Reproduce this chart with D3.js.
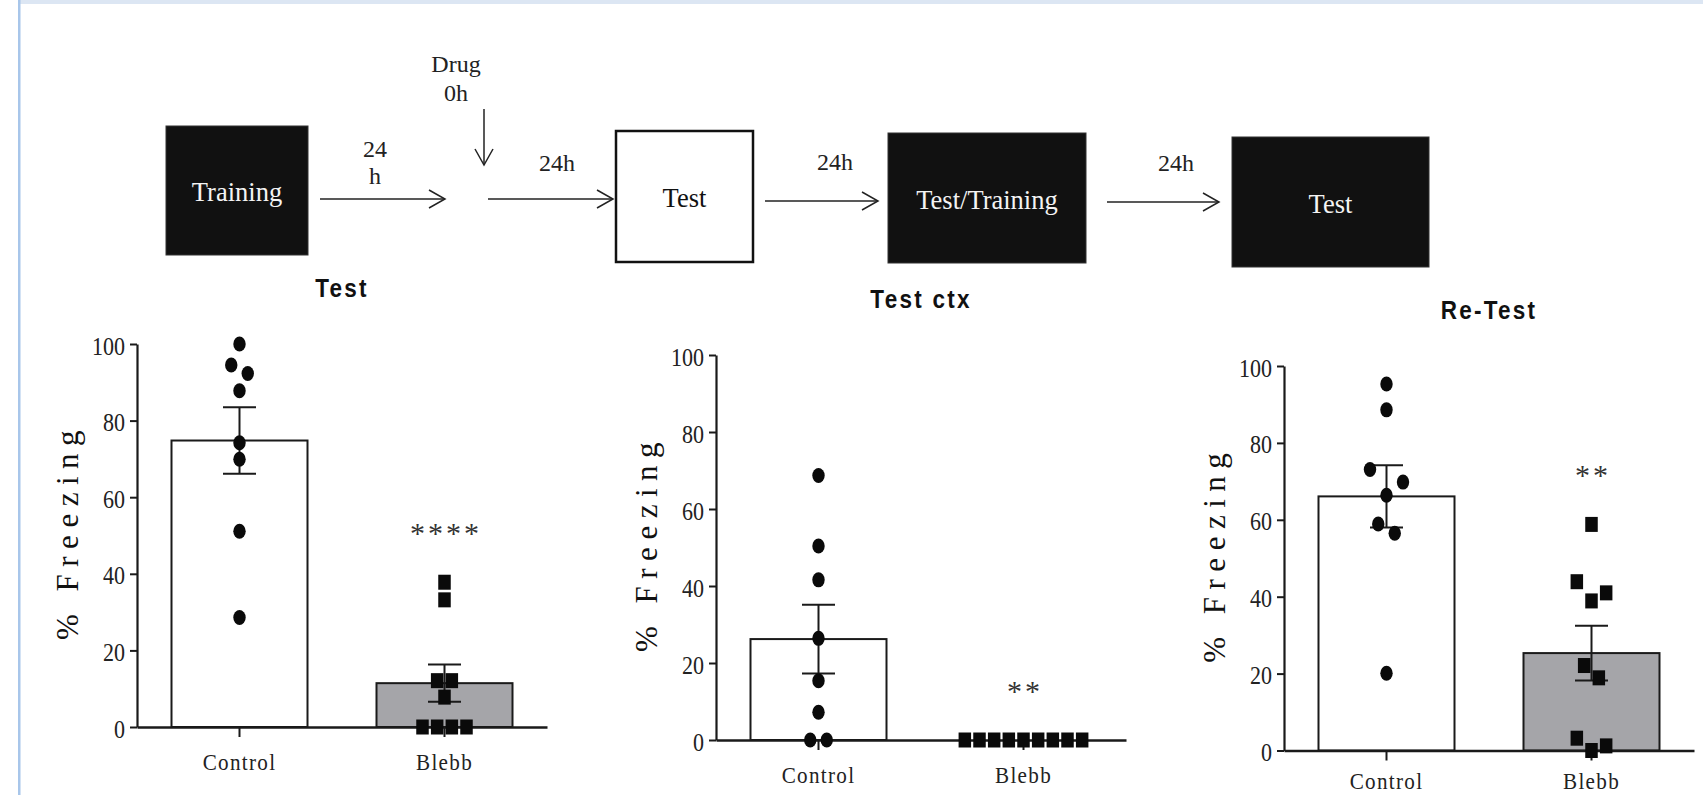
<!DOCTYPE html>
<html>
<head>
<meta charset="utf-8">
<script src="https://cdn.jsdelivr.net/npm/d3@7"></script>
<style>
  body { margin: 0; background: #fff; }
  svg { display: block; }
</style>
</head>
<body>
<svg id="fig" width="1703" height="795"></svg>
<script>

// ---- data ----
var groups = ["Control", "Blebb"];
var panelTitles = ["Test", "Test ctx", "Re-Test"];
var yTicks = [0, 20, 40, 60, 80, 100];

var testControl   = [100, 94.5, 92.3, 87.8, 74.2, 69.9, 51.1, 28.6];
var testBlebb     = [37.8, 33.2, 12.1, 12.1, 7.8, 0, 0, 0, 0];
var ctxControl    = [68.7, 50.4, 41.6, 26.4, 15.4, 7.2, 0, 0];
var ctxBlebb      = [0, 0, 0, 0, 0, 0, 0, 0, 0];
var retestControl = [95.3, 88.6, 73.1, 69.8, 66.4, 58.9, 56.5, 20.1];
var retestBlebb   = [58.8, 43.9, 41.0, 38.9, 22.1, 18.9, 3.2, 1.2, 0];

var stars = ["****", "**", "**"];

// protocol diagram
var steps = ["Training", "Test", "Test/Training", "Test"];
var delays = [["24", "h"], ["24h"], ["24h"], ["24h"]];
var drugLabel = ["Drug", "0h"];

var svg = d3.select("#fig");
var serif = "'Liberation Serif', 'Times New Roman', serif",
    sans = "'Liberation Sans', Arial, sans-serif";

// page frame (light blue rules of the source page)
svg.append("rect").attr("x", 19).attr("y", 0).attr("width", 1684).attr("height", 4).attr("fill", "#dce6f3");
svg.append("rect").attr("x", 18).attr("y", 0).attr("width", 2.5).attr("height", 795).attr("fill", "#a8c6ea");

// ---------- protocol diagram ----------
var boxes = [
  {x: 166, y: 126, w: 142, h: 129, dark: true},
  {x: 616, y: 131, w: 137, h: 131, dark: false},
  {x: 888, y: 133, w: 198, h: 130, dark: true},
  {x: 1232, y: 137, w: 197, h: 130, dark: true}
];
var arrows = [
  {x1: 320, x2: 445, y: 199},
  {x1: 488, x2: 613, y: 199},
  {x1: 765, x2: 878, y: 201},
  {x1: 1107, x2: 1219, y: 202}
];
var delayPos = [[375, 157], [557, 171], [835, 170], [1176, 171]];

var diag = svg.append("g");
boxes.forEach(function(b, i) {
  diag.append("rect")
    .attr("x", b.x).attr("y", b.y).attr("width", b.w).attr("height", b.h)
    .attr("fill", b.dark ? "#111" : "#fff")
    .attr("stroke", b.dark ? "#333" : "#111")
    .attr("stroke-width", b.dark ? 1 : 2.5);
  diag.append("text")
    .attr("x", b.x + b.w / 2).attr("y", b.y + b.h / 2 + 10.5)
    .attr("text-anchor", "middle")
    .style("font-family", serif).style("font-size", "26.5px")
    .attr("fill", b.dark ? "#f4f4f4" : "#111")
    .text(steps[i]);
});

function arrowHead(g, x, y, dx, dy) {
  // open chevron pointing along (dx, dy)
  var L = 16, H = 9;
  var px = -dy, py = dx;
  g.append("path")
    .attr("d", "M" + (x - dx * L + px * H) + "," + (y - dy * L + py * H) +
               "L" + x + "," + y +
               "L" + (x - dx * L - px * H) + "," + (y - dy * L - py * H))
    .attr("fill", "none").attr("stroke", "#222").attr("stroke-width", 1.5);
}

arrows.forEach(function(a, i) {
  diag.append("line")
    .attr("x1", a.x1).attr("x2", a.x2).attr("y1", a.y).attr("y2", a.y)
    .attr("stroke", "#222").attr("stroke-width", 1.5);
  arrowHead(diag, a.x2, a.y, 1, 0);
  delays[i].forEach(function(t, k) {
    diag.append("text")
      .attr("x", delayPos[i][0]).attr("y", delayPos[i][1] + k * 27)
      .attr("text-anchor", "middle")
      .style("font-family", serif).style("font-size", "24px").attr("fill", "#222")
      .text(t);
  });
});

// drug injection arrow
diag.append("line").attr("x1", 484).attr("x2", 484).attr("y1", 109).attr("y2", 165)
  .attr("stroke", "#222").attr("stroke-width", 1.5);
arrowHead(diag, 484, 165, 0, 1);
drugLabel.forEach(function(t, k) {
  diag.append("text")
    .attr("x", 456).attr("y", 72 + k * 29)
    .attr("text-anchor", "middle")
    .style("font-family", serif).style("font-size", "24px").attr("fill", "#222")
    .text(t);
});

// ---------- bar panels ----------
var panels = [
  {title: panelTitles[0], sets: [testControl, testBlebb], star: stars[0], x: 137, top: 344, h: 383},
  {title: panelTitles[1], sets: [ctxControl, ctxBlebb], star: stars[1], x: 716, top: 355, h: 385},
  {title: panelTitles[2], sets: [retestControl, retestBlebb], star: stars[2], x: 1284, top: 366, h: 384.5}
];

var W = 410, barW = 136, capW = 33, sx = 0.88;
var fills = ["#ffffff", "#a5a5a9"];

function sem(v) {
  var s = d3.deviation(v);
  return s ? s / Math.sqrt(v.length) : 0;
}

// spread overlapping points sideways (prism style: clusters centred on the column)
function spread(vals, y, step, gap) {
  var order = d3.range(vals.length).sort(function(a, b) { return vals[b] - vals[a]; });
  var out = new Array(vals.length), cluster = [];
  function flush() {
    var n = cluster.length;
    var slots = d3.range(n).map(function(i) { return i - (n - 1) / 2; });
    slots.sort(function(a, b) { return Math.abs(b) - Math.abs(a) || a - b; });
    cluster.forEach(function(idx, k) { out[idx] = slots[k] * step; });
    cluster = [];
  }
  order.forEach(function(i) {
    if (cluster.length && y(vals[i]) - y(vals[cluster[cluster.length - 1]]) >= gap) flush();
    cluster.push(i);
  });
  flush();
  return out;
}

panels.forEach(function(p) {
  var x = d3.scaleBand().domain(groups).range([0, W]);
  var y = d3.scaleLinear().domain([0, 100]).range([p.h, 0]);
  var g = svg.append("g").attr("transform", "translate(" + p.x + "," + p.top + ")");
  var cx = function(d) { return x(d) + x.bandwidth() / 2; };

  // bars
  g.selectAll("rect.bar").data(groups).enter().append("rect")
    .attr("class", "bar")
    .attr("x", function(d) { return cx(d) - barW / 2; })
    .attr("width", barW)
    .attr("y", function(d, i) { return y(d3.mean(p.sets[i])); })
    .attr("height", function(d, i) { return p.h - y(d3.mean(p.sets[i])); })
    .attr("fill", function(d, i) { return fills[i]; })
    .attr("stroke", "#1a1a1a").attr("stroke-width", 2);

  // error bars (mean +/- SEM)
  groups.forEach(function(d, i) {
    var m = d3.mean(p.sets[i]), s = sem(p.sets[i]);
    if (!s) return;
    var eb = g.append("g").attr("stroke", "#1a1a1a").attr("stroke-width", 2);
    eb.append("line").attr("x1", cx(d)).attr("x2", cx(d)).attr("y1", y(m - s)).attr("y2", y(m + s));
    [m - s, m + s].forEach(function(v) {
      eb.append("line").attr("x1", cx(d) - capW / 2).attr("x2", cx(d) + capW / 2)
        .attr("y1", y(v)).attr("y2", y(v));
    });
  });

  // axes
  var ya = g.append("g").call(d3.axisLeft(y).tickValues(yTicks).tickSize(7).tickSizeOuter(0));
  var xa = g.append("g").attr("transform", "translate(0," + p.h + ")")
    .call(d3.axisBottom(x).tickSize(10).tickSizeOuter(0));
  [ya, xa].forEach(function(a) {
    a.attr("font-family", null).attr("font-size", null);
    a.selectAll("path, line").attr("stroke", "#1a1a1a").attr("stroke-width", 2);
    a.selectAll("text").style("font-family", serif).attr("fill", "#222");
  });
  ya.select(".domain").attr("stroke-width", 2.2);
  xa.select(".domain").attr("stroke-width", 2.5);
  ya.selectAll(".tick text")
    .style("font-size", "25px")
    .attr("x", -12 / sx).attr("dy", "0.4em")
    .attr("transform", "scale(" + sx + ",1)");
  // keep the category labels inside the page
  var labelY = Math.min(43, 795 - 6 - p.top - p.h);
  xa.selectAll(".tick text")
    .style("font-size", "24px")
    .attr("x", 0).attr("y", labelY).attr("dy", null)
    .attr("transform", "scale(" + sx + ",1)")
    .attr("letter-spacing", "1.5px");

  // individual animals
  groups.forEach(function(d, i) {
    var vals = p.sets[i];
    var step = Math.min(16.5, 132 / vals.length);
    var off = spread(vals, y, step, 14);
    var pts = g.append("g").attr("fill", "#0a0a0a");
    if (i === 0) {
      pts.selectAll("ellipse").data(vals).enter().append("ellipse")
        .attr("cx", function(v, k) { return cx(d) + off[k]; })
        .attr("cy", function(v) { return y(v); })
        .attr("rx", 6.2).attr("ry", 7.5);
    } else {
      pts.selectAll("rect").data(vals).enter().append("rect")
        .attr("x", function(v, k) { return cx(d) + off[k] - 6.25; })
        .attr("y", function(v) { return y(v) - 7.5; })
        .attr("width", 12.5).attr("height", 15);
    }
  });

  // significance
  var top = d3.max(p.sets[1]);
  g.append("text")
    .attr("x", cx(groups[1]) + 1.5).attr("y", y(top) - 52 + 13)
    .attr("text-anchor", "middle")
    .style("font-family", serif).style("font-size", "30px")
    .attr("letter-spacing", "3px").attr("fill", "#333")
    .text(p.star);

  // y label
  g.append("text")
    .attr("transform", "translate(-59," + (p.h / 2) + ") rotate(-90)")
    .attr("text-anchor", "middle").attr("dx", 4)
    .style("font-family", serif).style("font-size", "31px")
    .attr("letter-spacing", "7.5px").attr("fill", "#111")
    .text("% Freezing");

  // panel title
  g.append("text")
    .attr("transform", "translate(" + (W / 2) + ",-47) scale(0.9,1)")
    .attr("text-anchor", "middle")
    .style("font-family", sans).style("font-size", "25px").style("font-weight", "bold")
    .attr("letter-spacing", "2.5px").attr("fill", "#111")
    .text(p.title);
});

</script>
</body>
</html>
